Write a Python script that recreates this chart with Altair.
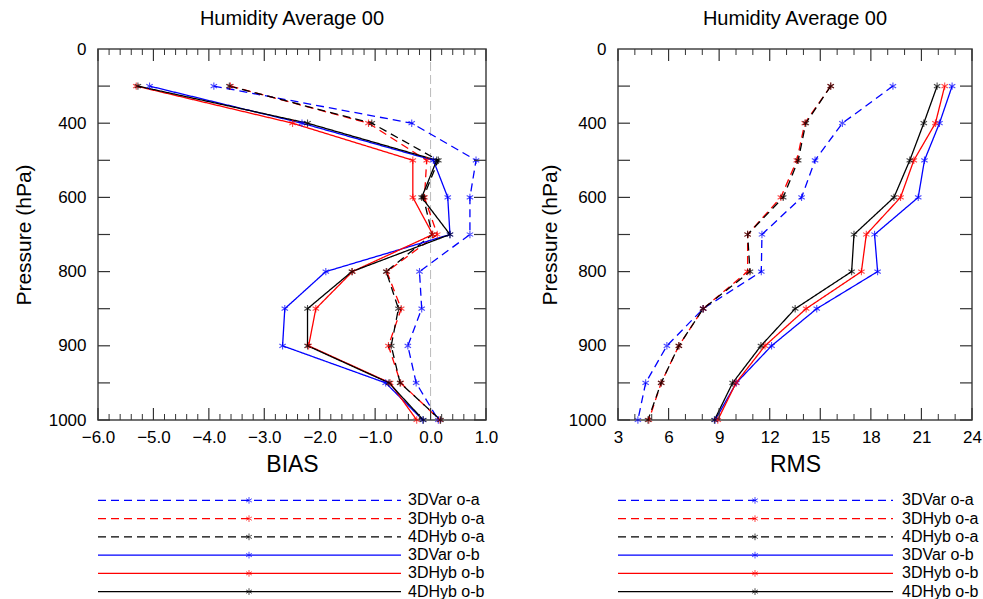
import altair as alt
import pandas as pd

# ---------------- data ----------------
levels = [300, 400, 500, 600, 700, 800, 850, 900, 950, 1000]
y_labels = ["0"] + [str(v) for v in levels]

series = ["3DVar o-a", "3DHyb o-a", "4DHyb o-a", "3DVar o-b", "3DHyb o-b", "4DHyb o-b"]
colors = ["#0000ff", "#ff0000", "#000000", "#0000ff", "#ff0000", "#000000"]
dashes = [[8, 5], [8, 5], [8, 5], [1, 0], [1, 0], [1, 0]]

bias_3dvar_oa = [-3.91, -0.34, 0.82, 0.71, 0.71, -0.20, -0.16, -0.41, -0.26, 0.14]
bias_3dhyb_oa = [-3.61, -1.12, -0.07, -0.11, 0.12, -0.79, -0.53, -0.76, -0.54, 0.17]
bias_4dhyb_oa = [-3.63, -1.06, 0.14, -0.13, 0.03, -0.80, -0.58, -0.71, -0.55, 0.18]
bias_3dvar_ob = [-5.07, -2.32, 0.05, 0.31, 0.35, -1.89, -2.63, -2.67, -0.81, -0.14]
bias_3dhyb_ob = [-5.31, -2.49, -0.32, -0.32, 0.04, -1.41, -2.07, -2.20, -0.73, -0.25]
bias_4dhyb_ob = [-5.28, -2.22, 0.11, -0.16, 0.35, -1.42, -2.22, -2.22, -0.75, -0.13]

rms_3dvar_oa = [19.31, 16.31, 14.69, 13.89, 11.54, 11.50, 8.05, 5.90, 4.64, 4.18]
rms_3dhyb_oa = [15.62, 14.08, 13.61, 12.66, 10.69, 10.69, 8.05, 6.61, 5.56, 4.83]
rms_4dhyb_oa = [15.62, 14.14, 13.69, 12.80, 10.69, 10.83, 8.05, 6.61, 5.56, 4.78]
rms_3dvar_ob = [22.82, 22.07, 21.18, 20.81, 18.22, 18.40, 14.79, 12.11, 10.02, 8.76]
rms_3dhyb_ob = [22.38, 21.83, 20.55, 19.76, 17.73, 17.44, 14.16, 11.72, 10.00, 8.92]
rms_4dhyb_ob = [21.93, 21.14, 20.31, 19.37, 17.00, 16.86, 13.51, 11.48, 9.80, 8.72]

bias_major = [-6, -5, -4, -3, -2, -1, 0, 1]
bias_minor = [round(-6 + 0.2 * i, 1) for i in range(36) if i % 5 != 0]
rms_major = [3, 6, 9, 12, 15, 18, 21, 24]
rms_minor = [v for v in range(3, 25) if v % 3 != 0]
y_tick_idx = list(range(1, 11))

FONT = "Liberation Sans"
H = 371


def long_df(cols):
    rows = []
    for name, vals in zip(series, cols):
        for i, v in enumerate(vals):
            rows.append({"series": name, "idx": i + 1, "value": v})
    return pd.DataFrame(rows)


color_scale = alt.Scale(domain=series, range=colors)
dash_scale = alt.Scale(domain=series, range=dashes)
ASTER = "M0,-1L0,1M-0.866,-0.5L0.866,0.5M-0.866,0.5L0.866,-0.5"
label_expr = "[" + ",".join("'%s'" % s for s in y_labels) + "][datum.value]"


def panel(cols, xdom, major, minor, fmt, xtitle, W, zero_line, ytitle_pad):
    df = long_df(cols)
    xs = alt.Scale(domain=xdom, nice=False, zero=False)
    ys = alt.Scale(domain=[0, 10], reverse=True, nice=False, zero=False)
    xenc = alt.X("value:Q", scale=xs,
                 axis=alt.Axis(values=major, format=fmt, ticks=False, domain=False, grid=False,
                               labelFlush=False, labelOverlap=False,
                               labelPadding=9, labelFontSize=17, labelFont=FONT, labelColor="black",
                               title=xtitle, titleFontSize=23, titleFont=FONT, titleFontWeight="normal",
                               titlePadding=8, titleColor="black"))
    yenc = alt.Y("idx:Q", scale=ys,
                 axis=alt.Axis(values=list(range(0, 11)), labelExpr=label_expr, ticks=False, domain=False,
                               grid=False, labelFlush=False, labelOverlap=False,
                               labelPadding=12, labelFontSize=17, labelFont=FONT,
                               labelColor="black", title="Pressure (hPa)", titleFontSize=21,
                               titleFont=FONT, titleFontWeight="normal", titlePadding=ytitle_pad,
                               titleColor="black"))
    base = alt.Chart(df)
    lines = base.mark_line(strokeWidth=1.3).encode(
        x=xenc, y=yenc,
        color=alt.Color("series:N", scale=color_scale, legend=None),
        strokeDash=alt.StrokeDash("series:N", scale=dash_scale, legend=None),
        detail="series:N", order="idx:Q")
    pts = base.mark_point(shape=ASTER, filled=False, size=55, strokeWidth=1.1).encode(
        x=alt.X("value:Q", scale=xs), y=alt.Y("idx:Q", scale=ys),
        color=alt.Color("series:N", scale=color_scale, legend=None))

    tick_col = "#333333"
    mj = pd.DataFrame({"v": major})
    mn = pd.DataFrame({"v": minor})
    yt = pd.DataFrame({"i": y_tick_idx})
    tx = alt.X("v:Q", scale=xs)
    layers = []
    if zero_line:
        layers.append(alt.Chart(pd.DataFrame({"v": [0]})).mark_rule(
            color="#bbbbbb", strokeDash=[9, 4], strokeWidth=1).encode(
            x=tx, y=alt.value(0), y2=alt.value(H)))
    layers += [lines, pts]
    layers += [
        alt.Chart(mj).mark_rule(color=tick_col, strokeWidth=1.2).encode(x=tx, y=alt.value(0), y2=alt.value(12)),
        alt.Chart(mj).mark_rule(color=tick_col, strokeWidth=1.2).encode(x=tx, y=alt.value(H - 12), y2=alt.value(H)),
        alt.Chart(mn).mark_rule(color=tick_col, strokeWidth=1).encode(x=tx, y=alt.value(0), y2=alt.value(6)),
        alt.Chart(mn).mark_rule(color=tick_col, strokeWidth=1).encode(x=tx, y=alt.value(H - 6), y2=alt.value(H)),
        alt.Chart(yt).mark_rule(color=tick_col, strokeWidth=1.2).encode(
            y=alt.Y("i:Q", scale=ys), x=alt.value(0), x2=alt.value(12)),
        alt.Chart(yt).mark_rule(color=tick_col, strokeWidth=1.2).encode(
            y=alt.Y("i:Q", scale=ys), x=alt.value(W - 12), x2=alt.value(W)),
    ]
    plot = alt.layer(*layers).properties(
        width=W, height=H,
        title=alt.TitleParams("Humidity Average 00", fontSize=20, font=FONT, fontWeight="normal",
                              color="black", offset=11, anchor="middle"))
    return plot


def legend(W, line_end, star_x, text_x):
    ld = pd.DataFrame({"series": series})
    ys = alt.Y("series:N", sort=series, scale=alt.Scale(type="point", padding=0.35), axis=None)
    rl = alt.Chart(ld).mark_rule(strokeWidth=1.3).encode(
        y=ys, x=alt.value(0), x2=alt.value(line_end),
        color=alt.Color("series:N", scale=color_scale, legend=None),
        strokeDash=alt.StrokeDash("series:N", scale=dash_scale, legend=None))
    st = alt.Chart(ld).mark_point(shape=ASTER, filled=False, size=45, strokeWidth=1).encode(
        y=ys, x=alt.value(star_x),
        color=alt.Color("series:N", scale=color_scale, legend=None))
    tx = alt.Chart(ld).mark_text(align="left", baseline="middle", fontSize=16, font=FONT,
                                 color="black").encode(
        y=ys, x=alt.value(text_x), text="series:N")
    return alt.layer(rl, st, tx).properties(width=W, height=104,
                                            view=alt.ViewBackground(stroke="transparent"))


WL, WR = 388, 354
left = alt.vconcat(
    panel([bias_3dvar_oa, bias_3dhyb_oa, bias_4dhyb_oa, bias_3dvar_ob, bias_3dhyb_ob, bias_4dhyb_ob],
          [-6, 1], bias_major, bias_minor, ".1f", "BIAS", WL, True, 14),
    legend(WL, 303, 151, 310), spacing=14)
right = alt.vconcat(
    panel([rms_3dvar_oa, rms_3dhyb_oa, rms_4dhyb_oa, rms_3dvar_ob, rms_3dhyb_ob, rms_4dhyb_ob],
          [3, 24], rms_major, rms_minor, "d", "RMS", WR, False, 8),
    legend(WR, 275, 137, 284), spacing=14)

chart = alt.hconcat(left, right, spacing=39).properties(
    padding={"left": 12, "top": 8, "right": 0, "bottom": 0},
    background="white"
).configure_view(stroke="#444444", strokeWidth=1.5)

chart.save("out.html", embed_options={"renderer": "svg", "actions": False})
